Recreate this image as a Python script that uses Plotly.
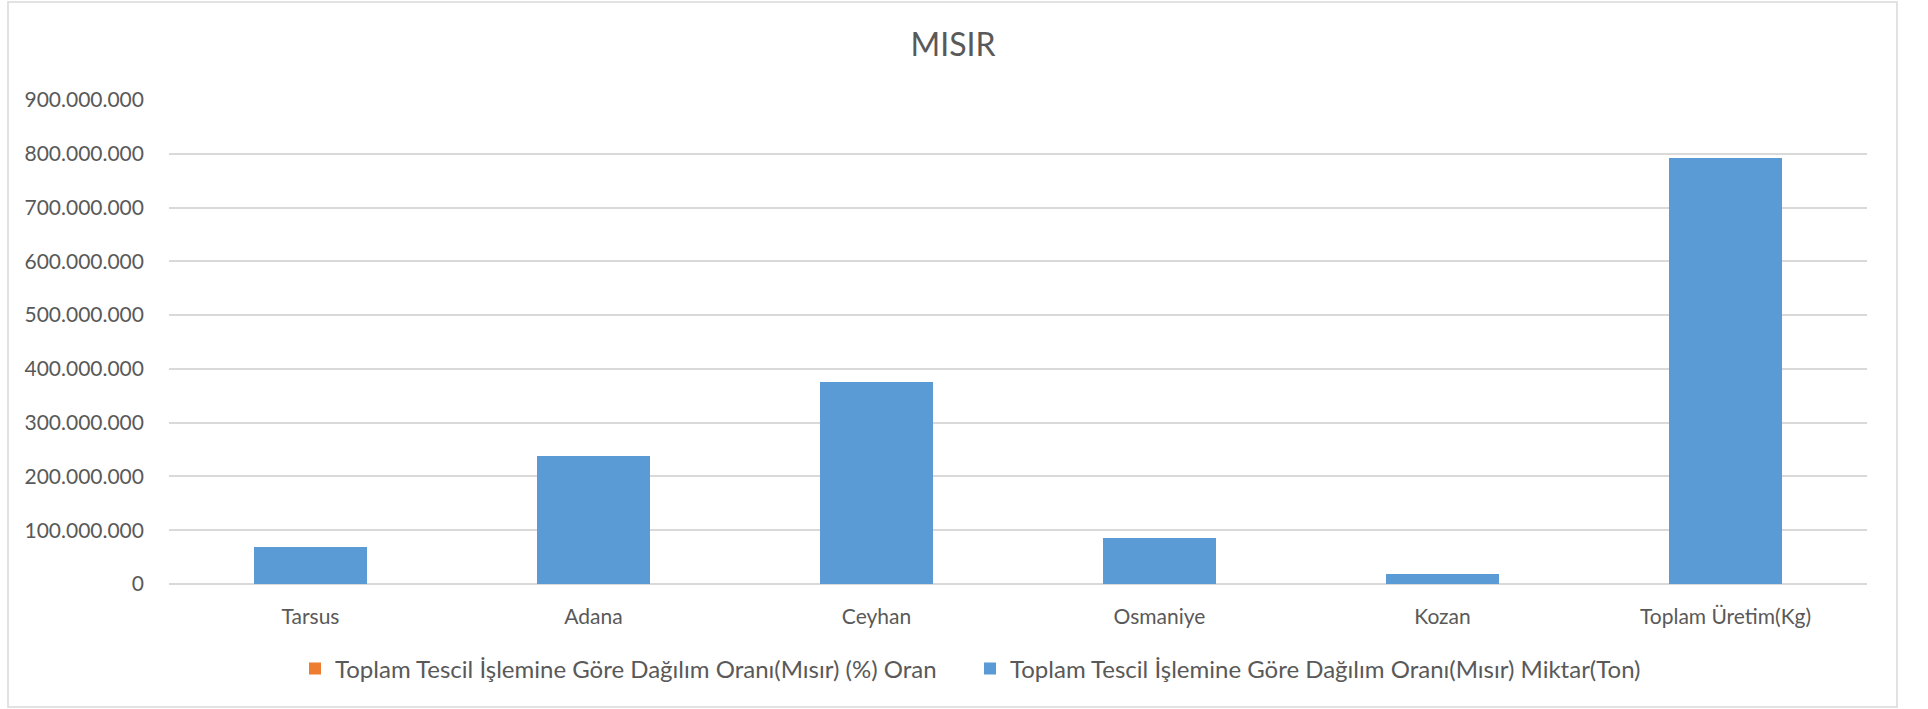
import plotly.graph_objects as go

categories = ["Tarsus", "Adana", "Ceyhan", "Osmaniye", "Kozan", "Toplam Üretim(Kg)"]
oran_values = [8.6, 30.1, 47.4, 10.9, 2.5, 100]
miktar_values = [68_500_000, 238_500_000, 376_000_000, 86_000_000, 19_500_000, 792_500_000]
y_ticks = [0, 100_000_000, 200_000_000, 300_000_000, 400_000_000,
           500_000_000, 600_000_000, 700_000_000, 800_000_000, 900_000_000]

series_oran = "Toplam Tescil İşlemine Göre Dağılım Oranı(Mısır) (%) Oran"
series_miktar = "Toplam Tescil İşlemine Göre Dağılım Oranı(Mısır) Miktar(Ton)"

W, H = 1928, 709
L, R, T, B = 169, 61, 100, 125
pw, ph = W - L - R, H - T - B

def px_x(p):
    return (p - L) / pw

def px_y(p):
    return (H - B - p) / ph

text_color = "#595959"
grid_color = "#D9D9D9"
font_family = "Lato, 'Open Sans', sans-serif"

fig = go.Figure()
fig.add_trace(go.Bar(x=categories, y=oran_values, name=series_oran,
                     marker=dict(color="#ED7D31", line=dict(width=0)), width=0.4))
fig.add_trace(go.Bar(x=categories, y=miktar_values, name=series_miktar,
                     marker=dict(color="#5B9BD5", line=dict(width=0)), width=0.4))

fig.update_layout(
    width=W, height=H,
    margin=dict(l=L, r=R, t=T, b=B, pad=0),
    barmode="stack",
    separators=",.",
    paper_bgcolor="white",
    plot_bgcolor="white",
    font=dict(family=font_family, size=21, color=text_color),
    title=dict(text="MISIR", x=953 / W, xanchor="center", xref="container",
               y=1 - 45 / H, yanchor="middle", yref="container",
               font=dict(family=font_family, size=32, color=text_color)),
    showlegend=True,
    legend=dict(orientation="h", x=px_x(970), xanchor="center",
                y=px_y(669), yanchor="middle", traceorder="normal",
                font=dict(family=font_family, size=24, color=text_color),
                itemwidth=30, entrywidth=630, bgcolor="rgba(0,0,0,0)"),
    xaxis=dict(showgrid=False, showline=False, ticks="", zeroline=False,
               tickfont=dict(size=21, color=text_color), ticklabelstandoff=18),
    yaxis=dict(range=[0, 900_000_000], tickvals=y_ticks, tickformat=",d",
               showgrid=True, gridcolor=grid_color, gridwidth=1.5,
               zeroline=True, zerolinecolor=grid_color, zerolinewidth=1.5,
               showline=False, ticks="",
               tickfont=dict(size=21, color=text_color), ticklabelstandoff=24),
    shapes=[dict(type="rect", xref="paper", yref="paper",
                 x0=px_x(8), x1=px_x(1897), y0=px_y(707), y1=px_y(2),
                 line=dict(color=grid_color, width=1.5), fillcolor="rgba(0,0,0,0)",
                 layer="below")],
)

fig.write_html("out.html", config={"displayModeBar": False},
               post_script="document.body.style.margin='0';document.body.style.overflow='hidden';")
